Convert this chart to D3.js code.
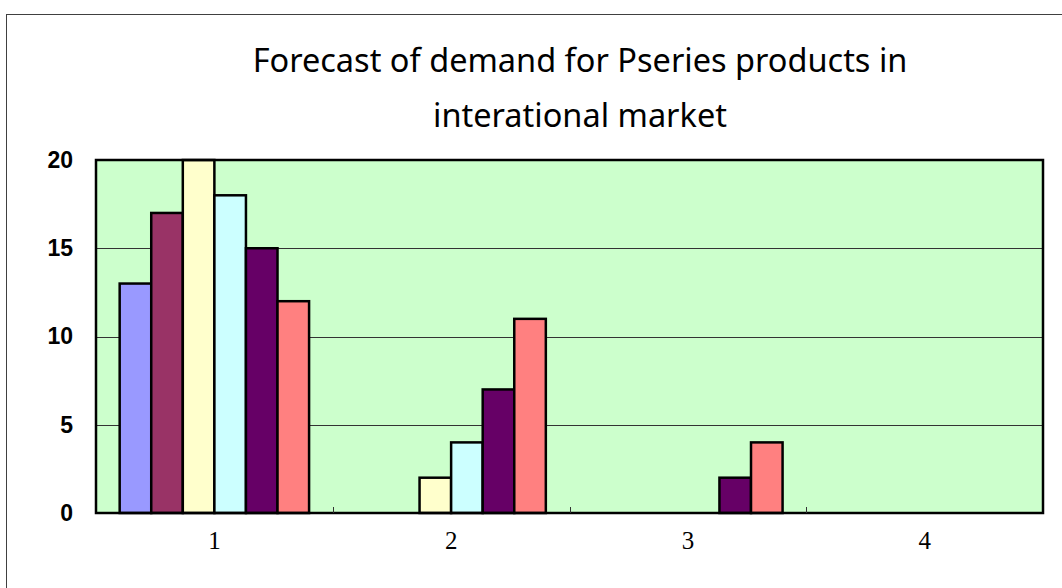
<!DOCTYPE html>
<html>
<head>
<meta charset="utf-8">
<script src="https://cdn.jsdelivr.net/npm/d3@7"></script>
<style>
  html, body { margin: 0; padding: 0; background: #ffffff; }
  svg { display: block; }
</style>
</head>
<body>
<svg id="chart" width="1062" height="588"></svg>
<script>
// Demand forecast data: four categories, six series
const categories = ["1", "2", "3", "4"];
const seriesA = [13, 0, 0, 0];
const seriesB = [17, 0, 0, 0];
const seriesC = [20, 2, 0, 0];
const seriesD = [18, 4, 0, 0];
const seriesE = [15, 7, 2, 0];
const seriesF = [12, 11, 4, 0];
const seriesColors = ["#9999FF", "#993366", "#FFFFCC", "#CCFFFF", "#660066", "#FF8080"];
const yTicks = [0, 5, 10, 15, 20];
const titleLines = ["Forecast of demand for Pseries products in", "interational market"];

const allSeries = [seriesA, seriesB, seriesC, seriesD, seriesE, seriesF];

const svg = d3.select("#chart");
const W = 1062, H = 588;

// outer chart frame
svg.append("rect")
  .attr("x", 6.5).attr("y", 14.5)
  .attr("width", W).attr("height", H)
  .attr("fill", "none").attr("stroke", "#404040").attr("stroke-width", 1);

const plot = { left: 96, top: 160, right: 1043, bottom: 513 };

// title
const title = svg.append("text")
  .attr("text-anchor", "middle")
  .attr("font-family", "'Noto Sans', 'Open Sans', sans-serif")
  .attr("font-size", 32.5)
  .attr("fill", "#000");
titleLines.forEach((t, i) => {
  title.append("tspan").attr("x", 580).attr("y", 72 + i * 55).text(t);
});

const x0 = d3.scaleBand().domain(categories).range([plot.left, plot.right]).paddingInner(0).paddingOuter(0);
// group of six bars plus a 1.5-bar gap per category
const barW = x0.bandwidth() / 7.5;
const x1 = d3.scaleBand().domain(d3.range(allSeries.length)).range([0, barW * allSeries.length]);
const y = d3.scaleLinear().domain([0, 20]).range([plot.bottom, plot.top]);

// plot background
svg.append("rect")
  .attr("x", plot.left).attr("y", plot.top)
  .attr("width", plot.right - plot.left).attr("height", plot.bottom - plot.top)
  .attr("fill", "#CCFFCC");

// gridlines
svg.append("g")
  .selectAll("line")
  .data(yTicks.filter(v => v > 0 && v < 20))
  .join("line")
  .attr("x1", plot.left).attr("x2", plot.right)
  .attr("y1", d => Math.round(y(d)) + 0.5).attr("y2", d => Math.round(y(d)) + 0.5)
  .attr("stroke", "#333").attr("stroke-width", 1);

// bars
const groups = svg.append("g")
  .selectAll("g")
  .data(categories)
  .join("g")
  .attr("transform", c => `translate(${x0(c) + barW * 0.75},0)`);

groups.selectAll("rect")
  .data((c, ci) => allSeries.map((s, si) => ({ si, v: s[ci] })).filter(d => d.v > 0))
  .join("rect")
  .attr("x", d => x1(d.si))
  .attr("y", d => y(d.v))
  .attr("width", x1.bandwidth())
  .attr("height", d => y(0) - y(d.v))
  .attr("fill", d => seriesColors[d.si])
  .attr("stroke", "#000")
  .attr("stroke-width", 2.5);

// plot border
svg.append("rect")
  .attr("x", plot.left).attr("y", plot.top)
  .attr("width", plot.right - plot.left).attr("height", plot.bottom - plot.top)
  .attr("fill", "none").attr("stroke", "#000").attr("stroke-width", 2.5);

// category axis: inward ticks between categories, serif labels
const xAxis = d3.axisBottom(x0).tickSize(0).tickPadding(18);
const gx = svg.append("g")
  .attr("transform", `translate(0,${plot.bottom})`)
  .call(xAxis);
gx.select(".domain").remove();
gx.selectAll("text")
  .attr("font-family", "'Liberation Serif', 'DejaVu Serif', serif")
  .attr("font-size", 25)
  .attr("fill", "#000");

svg.append("g")
  .selectAll("line")
  .data(categories.slice(1))
  .join("line")
  .attr("x1", c => Math.round(x0(c)) + 0.5).attr("x2", c => Math.round(x0(c)) + 0.5)
  .attr("y1", plot.bottom).attr("y2", plot.bottom - 6)
  .attr("stroke", "#333").attr("stroke-width", 1);

// value axis labels
const yAxis = d3.axisLeft(y).tickValues(yTicks).tickSize(0).tickPadding(23);
const gy = svg.append("g")
  .attr("transform", `translate(${plot.left},0)`)
  .call(yAxis);
gy.select(".domain").remove();
gy.selectAll("text")
  .attr("font-family", "'Liberation Sans Narrow', 'Liberation Sans', Arial, sans-serif")
  .attr("font-weight", "bold")
  .attr("font-size", 23)
  .attr("fill", "#000");
</script>
</body>
</html>
